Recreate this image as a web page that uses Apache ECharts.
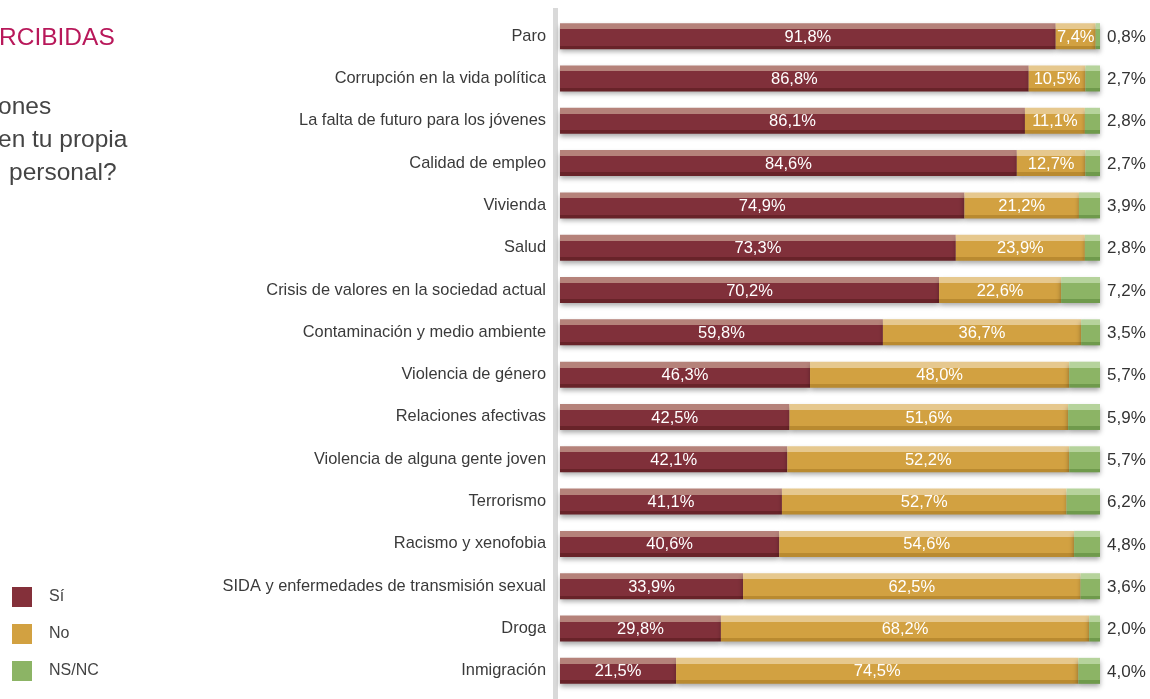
<!DOCTYPE html>
<html><head><meta charset="utf-8">
<script src="https://cdn.jsdelivr.net/npm/echarts@6/dist/echarts.min.js"></script>
<style>html,body{margin:0;padding:0;background:#fff}#c{width:1150px;height:699px}</style>
</head><body><div id="c"></div>
<script>
const categories = ["Paro","Corrupción en la vida política","La falta de futuro para los jóvenes","Calidad de empleo","Vivienda","Salud","Crisis de valores en la sociedad actual","Contaminación y medio ambiente","Violencia de género","Relaciones afectivas","Violencia de alguna gente joven","Terrorismo","Racismo y xenofobia","SIDA y enfermedades de transmisión sexual","Droga","Inmigración"];
const si =   [91.8,86.8,86.1,84.6,74.9,73.3,70.2,59.8,46.3,42.5,42.1,41.1,40.6,33.9,29.8,21.5];
const no =   [7.4,10.5,11.1,12.7,21.2,23.9,22.6,36.7,48.0,51.6,52.2,52.7,54.6,62.5,68.2,74.5];
const nsnc = [0.8,2.7,2.8,2.7,3.9,2.8,7.2,3.5,5.7,5.9,5.7,6.2,4.8,3.6,2.0,4.0];
const seriesNames = ["Sí","No","NS/NC"];
const legendColors = ["#84303a","#d2a141","#8cb465"];

const FONT = "Liberation Sans, Arial, sans-serif";
function bevel(top, main, bottom){
  return {type:'linear',x:0,y:0,x2:0,y2:1,colorStops:[
    {offset:0,color:top},{offset:0.23,color:top},{offset:0.23,color:main},
    {offset:0.86,color:main},{offset:0.86,color:bottom},{offset:1,color:bottom}]};
}
const fmt = v => v.toFixed(1).replace('.', ',') + '%';
const shadow = {shadowBlur:5, shadowColor:'rgba(0,0,0,0.35)', shadowOffsetY:3};

const chart = echarts.init(document.getElementById('c'), null, {renderer:'canvas'});
chart.setOption({
  animation:false,
  textStyle:{fontFamily:FONT},
  legend:{
    orient:'vertical', left:7, top:582, itemWidth:20, itemHeight:20, itemGap:17,
    icon:'rect', textStyle:{fontSize:16, color:'#444', padding:[0,0,0,12]},
    data:seriesNames.map((n,i)=>({name:n, itemStyle:{color:legendColors[i], shadowBlur:0, shadowOffsetY:0}}))
  },
  grid:{left:560, top:15, width:540, height:677},
  xAxis:{type:'value', min:0, max:100, show:false},
  yAxis:{type:'category', data:categories, inverse:true,
    axisLine:{show:false}, axisTick:{show:false},
    axisLabel:{fontSize:16.4, color:'#3a3a3a', margin:14}},
  graphic:[
    {type:'rect', shape:{x:553,y:8,width:5,height:691}, style:{fill:'#d9d9d9'}, z:-1},
    {type:'text', left:-1, top:26, style:{text:'RCIBIDAS', fontSize:24.5, fill:'#b8185a', fontFamily:FONT}},
    {type:'text', left:-2, top:95, style:{text:'ones', fontSize:24.5, fill:'#444', fontFamily:FONT}},
    {type:'text', left:-2, top:128, style:{text:'en tu propia', fontSize:24.5, fill:'#444', fontFamily:FONT}},
    {type:'text', left:9, top:161, style:{text:'personal?', fontSize:24.5, fill:'#444', fontFamily:FONT}}
  ],
  series:[
    {name:'Sí', type:'bar', stack:'t', barWidth:26, data:si,
      itemStyle:Object.assign({color:bevel('#b5827a','#80303a','#682329')}, shadow),
      label:{show:true, position:'inside', offset:[0,1], color:'#fff', fontSize:16.5, formatter:p=>fmt(p.value)}},
    {name:'No', type:'bar', stack:'t', barWidth:26, data:no,
      itemStyle:Object.assign({color:bevel('#e6c88e','#d2a141','#b98a30')}, shadow),
      label:{show:true, position:'inside', offset:[0,1], color:'#fff', fontSize:16.5, formatter:p=>fmt(p.value)}},
    {name:'NS/NC', type:'bar', stack:'t', barWidth:26, data:nsnc,
      itemStyle:Object.assign({color:bevel('#b6d39c','#8cb465','#6f9a4c')}, shadow),
      label:{show:true, position:'right', distance:7, offset:[0,1], color:'#333', fontSize:17, formatter:p=>fmt(p.value)}}
  ]
});
</script></body></html>
